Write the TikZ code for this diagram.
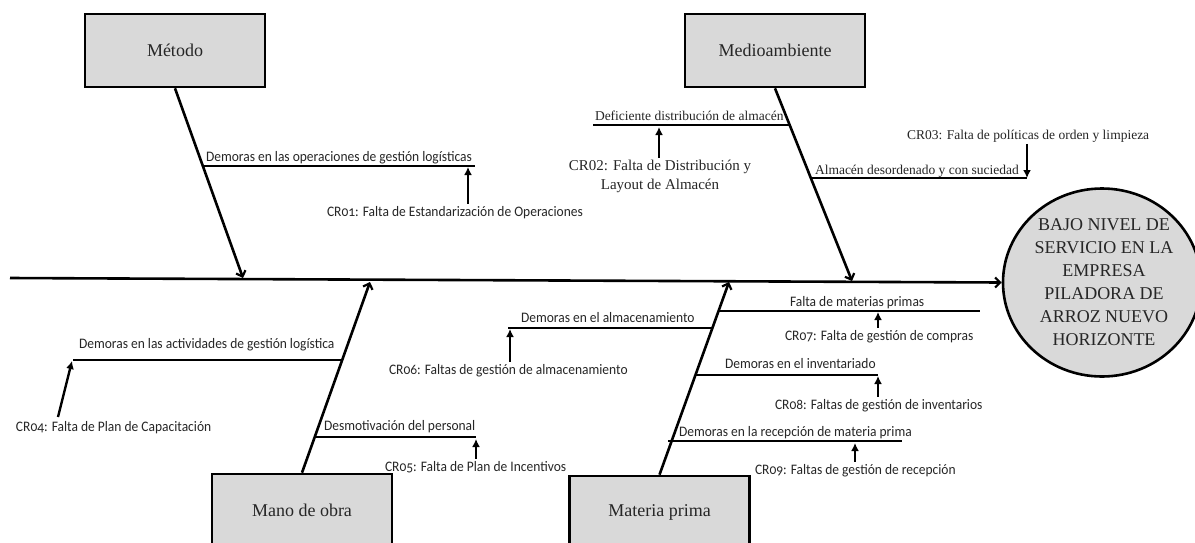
\documentclass[tikz,border=0pt]{standalone}
\usepackage{fontspec}
\setmainfont{Liberation Serif}
\newfontfamily\labsans[Numbers=OldStyle,FakeStretch=0.93]{Carlito}
\usetikzlibrary{arrows.meta,shapes.geometric}
\definecolor{boxgray}{HTML}{D9D9D9}
\definecolor{txt}{HTML}{262626}
\begin{document}
\begin{tikzpicture}[x=1pt,y=-1pt,
  cat/.style={draw=black, line width=2.6pt, fill=boxgray, minimum width=180pt, minimum height=73pt, font=\fontsize{18}{22}\selectfont, text=txt, inner sep=0pt},
  spine/.style={line width=2.6pt, -{Straight Barb[length=5pt,width=10pt,line width=2.2pt]}},
  branch/.style={line width=2.4pt},
  crarrow/.style={line width=2.4pt, -{Latex[length=8pt,width=8pt]}},
  sanslab/.style={font=\labsans\fontsize{14.5}{17}\selectfont, text=txt, inner sep=0pt, outer sep=2pt},
  seriflab/.style={font=\fontsize{13.5}{16}\selectfont, text=txt, inner sep=0pt, outer sep=2pt},
]
\useasboundingbox[fill=white] (0,0) rectangle (1195,542);

% category boxes
\node[cat] (metodo) at (175,50.5) {Método};
\node[cat] (medio) at (775,50.5) {Medioambiente};
\node[cat] (mano) at (302,510.5) {Mano de obra};
\node[cat] (materia) at (659.5,512.5) {Materia prima};

% effect
\node[ellipse, draw=black, line width=2.6pt, fill=boxgray, minimum width=198pt, minimum height=188pt, inner sep=0pt] (efecto) at (1102,282.5) {};
\node[align=center, font=\fontsize{18}{23}\selectfont, text=txt, inner sep=0pt] (efectolbl) at (1104,282) {BAJO NIVEL DE\\SERVICIO EN LA\\EMPRESA\\PILADORA DE\\ARROZ NUEVO\\HORIZONTE};

% main axis
\coordinate (axL) at (10,278);
\draw[spine] (axL) -- (efecto.west);

% spines
\coordinate (sp1) at (243,278);
\coordinate (sp2) at (852,281);
\coordinate (sp3) at (370,282);
\coordinate (sp4) at (729,282);
\draw[spine] (metodo.south) -- (sp1);
\draw[spine] (medio.south) -- (sp2);
\draw[spine] (mano.north) -- (sp3);
\draw[spine] (materia.north) -- (sp4);

% branch lines
\coordinate (b1s) at (204,166);  \coordinate (b1e) at (475,166);
\coordinate (b2s) at (790,125);  \coordinate (b2e) at (593,125);
\coordinate (b3s) at (812,178);  \coordinate (b3e) at (1027,178);
\coordinate (b4s) at (343,360);  \coordinate (b4e) at (73,360);
\coordinate (b5s) at (315,437);  \coordinate (b5e) at (476,437);
\coordinate (b6s) at (713,328);  \coordinate (b6e) at (508,328);
\coordinate (b7s) at (719,311);  \coordinate (b7e) at (980,311);
\coordinate (b8s) at (696,375);  \coordinate (b8e) at (878,375);
\coordinate (b9s) at (668,441);  \coordinate (b9e) at (902,441);
\foreach \i in {1,...,9} {\draw[branch] (b\i s) -- (b\i e);}

% branch labels
\node[sanslab, anchor=base west] (l1) at (204,161) {Demoras en las operaciones de gestión logísticas};
\node[seriflab, anchor=base west] (l2) at (593,120) {Deficiente distribución de almacén};
\node[seriflab, anchor=base west] (l3) at (813,174) {Almacén desordenado y con suciedad};
\node[sanslab, anchor=base west] (l4) at (77,348) {Demoras en las actividades de gestión logística};
\node[sanslab, anchor=base west] (l5) at (322,430) {Desmotivación del personal};
\node[sanslab, anchor=base west] (l6) at (519,322) {Demoras en el almacenamiento};
\node[sanslab, anchor=base west] (l7) at (788,306) {Falta de materias primas};
\node[sanslab, anchor=base west] (l8) at (723,368) {Demoras en el inventariado};
\node[sanslab, anchor=base west] (l9) at (677,436) {Demoras en la recepción de materia prima};

% root causes
\node[sanslab, anchor=base west] (cr01) at (325,216) {CR01: Falta de Estandarización de Operaciones};
\node[seriflab, font=\fontsize{15}{19}\selectfont, align=center] (cr02) at (660,176) {CR02: Falta de Distribución y\\Layout de Almacén};
\node[seriflab, anchor=base west] (cr03) at (905,139) {CR03: Falta de políticas de orden y limpieza};
\node[sanslab, anchor=base west] (cr04) at (14,431) {CR04: Falta de Plan de Capacitación};
\node[sanslab, anchor=base west] (cr05) at (383,471) {CR05: Falta de Plan de Incentivos};
\node[sanslab, anchor=base west] (cr06) at (387,374) {CR06: Faltas de gestión de almacenamiento};
\node[sanslab, anchor=base west] (cr07) at (783,340) {CR07: Falta de gestión de compras};
\node[sanslab, anchor=base west] (cr08) at (773,409) {CR08: Faltas de gestión de inventarios};
\node[sanslab, anchor=base west] (cr09) at (753,474) {CR09: Faltas de gestión de recepción};

% root cause arrows
\coordinate (a1) at (468,167);
\coordinate (a2) at (659,127);
\coordinate (a3) at (1027,178);
\coordinate (a4) at (72,361);
\coordinate (a4t) at (58,417);
\coordinate (a5) at (476,439);
\coordinate (a6) at (510,329);
\coordinate (a7) at (878,312);
\coordinate (a8) at (878,376);
\coordinate (a9) at (855,443);
\draw[crarrow] (cr01.north -| a1) -- (a1);
\draw[crarrow] (cr02.north -| a2) -- (a2);
\draw[crarrow] (cr03.south -| a3) -- (a3);
\draw[crarrow] (a4t) -- (a4);
\draw[crarrow] (cr05.north -| a5) -- (a5);
\draw[crarrow] (cr06.north -| a6) -- (a6);
\draw[crarrow] (cr07.north -| a7) -- (a7);
\draw[crarrow] (cr08.north -| a8) -- (a8);
\draw[crarrow] (cr09.north -| a9) -- (a9);
\end{tikzpicture}
\end{document}
